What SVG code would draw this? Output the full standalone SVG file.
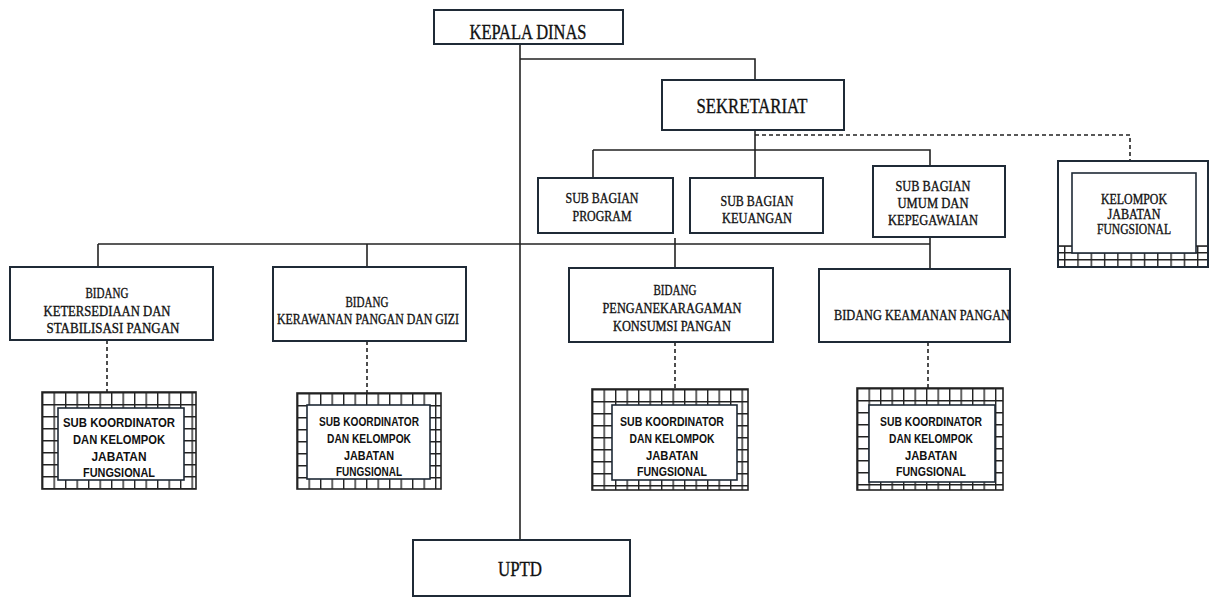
<svg xmlns="http://www.w3.org/2000/svg" width="1217" height="597" viewBox="0 0 1217 597">
<style>
.box{fill:#fff;stroke:#1f2a36;stroke-width:2}
.ln{fill:none;stroke:#222;stroke-width:1.6}
.dash{fill:none;stroke:#222;stroke-width:1.6;stroke-dasharray:4 3}
.s{font-family:"Liberation Serif","Times New Roman",serif;fill:#111;stroke:#111;stroke-width:0.35;text-anchor:middle}
.k{font-family:"Liberation Sans",Arial,sans-serif;fill:#111;text-anchor:middle;font-size:12.5px;font-weight:bold}
.inner{fill:#fff;stroke:#1f2a36;stroke-width:1.6}
</style>
<defs>
<pattern id="grid" width="11.5" height="12" patternUnits="userSpaceOnUse">
<rect width="11.5" height="12" fill="#fff"/>
<path d="M0 0.7H11.5M0.7 0V12" stroke="#222" stroke-width="1.4" fill="none"/>
</pattern>
<pattern id="grid2" width="13.3" height="7" patternUnits="userSpaceOnUse">
<rect width="13.3" height="7" fill="#fff"/>
<path d="M0 0.7H13.3M0.7 0V7" stroke="#222" stroke-width="1.4" fill="none"/>
</pattern>
</defs>

<g id="connectors">
<path class="ln" d="M520 44V540"/>
<path class="ln" d="M520 59H755V80"/>
<path class="ln" d="M755 130V178"/>
<path class="ln" d="M593 150H930V166"/>
<path class="ln" d="M593 150V178"/>
<path class="dash" d="M755 135H1130V161"/>
<path class="ln" d="M98 244H930"/>
<path class="ln" d="M98 244V267"/>
<path class="ln" d="M367 244V267"/>
<path class="ln" d="M675 238V268"/>
<path class="ln" d="M930 237V269"/>
<path class="dash" d="M107 340V392"/>
<path class="dash" d="M367 341V393"/>
<path class="dash" d="M675 342V389"/>
<path class="dash" d="M928 342V388"/>
</g>

<g id="kepala-dinas">
<rect class="box" x="434" y="10" width="189" height="34"/>
<text class="s" x="528" y="39" font-size="21" textLength="117" lengthAdjust="spacingAndGlyphs">KEPALA DINAS</text>
</g>

<g id="sekretariat">
<rect class="box" x="662" y="80" width="182" height="50"/>
<text class="s" x="752" y="113" font-size="22" textLength="111" lengthAdjust="spacingAndGlyphs">SEKRETARIAT</text>
</g>

<g id="sub-bagian-program">
<rect class="box" x="538" y="178" width="135" height="55"/>
<text class="s" x="602" y="203" font-size="15" textLength="73" lengthAdjust="spacingAndGlyphs">SUB BAGIAN</text>
<text class="s" x="602" y="221" font-size="15" textLength="59" lengthAdjust="spacingAndGlyphs">PROGRAM</text>
</g>

<g id="sub-bagian-keuangan">
<rect class="box" x="690" y="178" width="133" height="55"/>
<text class="s" x="757" y="206" font-size="15" textLength="73" lengthAdjust="spacingAndGlyphs">SUB BAGIAN</text>
<text class="s" x="757" y="223" font-size="15" textLength="70" lengthAdjust="spacingAndGlyphs">KEUANGAN</text>
</g>

<g id="sub-bagian-umum">
<rect class="box" x="873" y="166" width="132" height="71"/>
<text class="s" x="933" y="191" font-size="15" textLength="75" lengthAdjust="spacingAndGlyphs">SUB BAGIAN</text>
<text class="s" x="933" y="208" font-size="15" textLength="71" lengthAdjust="spacingAndGlyphs">UMUM DAN</text>
<text class="s" x="933" y="225" font-size="15" textLength="90" lengthAdjust="spacingAndGlyphs">KEPEGAWAIAN</text>
</g>

<g id="kelompok-jabatan-fungsional">
<rect class="box" x="1058" y="161" width="150" height="106"/>
<rect x="1059" y="246" width="148" height="20" fill="url(#grid2)"/>
<path class="ln" d="M1059 246H1207" stroke-width="1.2"/>
<rect x="1058" y="161" width="150" height="106" fill="none" stroke="#1f2a36" stroke-width="2"/>
<rect class="inner" x="1072" y="173" width="124" height="80"/>
<text class="s" x="1134" y="204" font-size="14" textLength="66" lengthAdjust="spacingAndGlyphs">KELOMPOK</text>
<text class="s" x="1134" y="219" font-size="14" textLength="53" lengthAdjust="spacingAndGlyphs">JABATAN</text>
<text class="s" x="1134" y="234" font-size="14" textLength="74" lengthAdjust="spacingAndGlyphs">FUNGSIONAL</text>
</g>

<g id="bidang-ketersediaan">
<rect class="box" x="10" y="267" width="203" height="73"/>
<text class="s" x="107" y="298" font-size="15" textLength="43" lengthAdjust="spacingAndGlyphs">BIDANG</text>
<text class="s" x="107" y="316" font-size="15" textLength="127" lengthAdjust="spacingAndGlyphs">KETERSEDIAAN DAN</text>
<text class="s" x="113" y="333" font-size="15" textLength="133" lengthAdjust="spacingAndGlyphs">STABILISASI  PANGAN</text>
</g>

<g id="bidang-kerawanan">
<rect class="box" x="273" y="267" width="193" height="74"/>
<text class="s" x="367" y="307" font-size="15" textLength="43" lengthAdjust="spacingAndGlyphs">BIDANG</text>
<text class="s" x="368" y="324" font-size="15" textLength="182" lengthAdjust="spacingAndGlyphs">KERAWANAN PANGAN DAN GIZI</text>
</g>

<g id="bidang-penganekaragaman">
<rect class="box" x="569" y="268" width="204" height="74"/>
<text class="s" x="675" y="295" font-size="15" textLength="43" lengthAdjust="spacingAndGlyphs">BIDANG</text>
<text class="s" x="672" y="313" font-size="15" textLength="139" lengthAdjust="spacingAndGlyphs">PENGANEKARAGAMAN</text>
<text class="s" x="672" y="331" font-size="15" textLength="118" lengthAdjust="spacingAndGlyphs">KONSUMSI PANGAN</text>
</g>

<g id="bidang-keamanan">
<rect class="box" x="819" y="269" width="191" height="73"/>
<text class="s" x="922" y="320" font-size="15" textLength="176" lengthAdjust="spacingAndGlyphs">BIDANG KEAMANAN PANGAN</text>
</g>

<g id="sub-koordinator-1" transform="translate(42 392)">
<rect width="154" height="97" fill="url(#grid)" stroke="#222" stroke-width="1.6"/>
<rect class="inner" x="16" y="16" width="126" height="72"/>
<text class="k" x="77" y="35" textLength="112" lengthAdjust="spacingAndGlyphs">SUB KOORDINATOR</text>
<text class="k" x="77" y="52" textLength="92" lengthAdjust="spacingAndGlyphs">DAN KELOMPOK</text>
<text class="k" x="77" y="69" textLength="55" lengthAdjust="spacingAndGlyphs">JABATAN</text>
<text class="k" x="77" y="85" textLength="72" lengthAdjust="spacingAndGlyphs">FUNGSIONAL</text>
</g>

<g id="sub-koordinator-2" transform="translate(297 393)">
<rect width="144" height="96" fill="url(#grid)" stroke="#222" stroke-width="1.6"/>
<rect class="inner" x="10" y="12" width="123" height="74"/>
<text class="k" x="72" y="33" textLength="100" lengthAdjust="spacingAndGlyphs">SUB KOORDINATOR</text>
<text class="k" x="72" y="50" textLength="84" lengthAdjust="spacingAndGlyphs">DAN KELOMPOK</text>
<text class="k" x="72" y="67" textLength="50" lengthAdjust="spacingAndGlyphs">JABATAN</text>
<text class="k" x="72" y="83" textLength="66" lengthAdjust="spacingAndGlyphs">FUNGSIONAL</text>
</g>

<g id="sub-koordinator-3" transform="translate(592 389)">
<rect width="156" height="101" fill="url(#grid)" stroke="#222" stroke-width="1.6"/>
<rect class="inner" x="20" y="16" width="125" height="75"/>
<text class="k" x="80" y="37" textLength="104" lengthAdjust="spacingAndGlyphs">SUB KOORDINATOR</text>
<text class="k" x="80" y="54" textLength="85" lengthAdjust="spacingAndGlyphs">DAN KELOMPOK</text>
<text class="k" x="80" y="71" textLength="52" lengthAdjust="spacingAndGlyphs">JABATAN</text>
<text class="k" x="80" y="87" textLength="70" lengthAdjust="spacingAndGlyphs">FUNGSIONAL</text>
</g>

<g id="sub-koordinator-4" transform="translate(857 388)">
<rect width="146" height="102" fill="url(#grid)" stroke="#222" stroke-width="1.6"/>
<rect class="inner" x="12" y="17" width="126" height="77"/>
<text class="k" x="74" y="38" textLength="102" lengthAdjust="spacingAndGlyphs">SUB KOORDINATOR</text>
<text class="k" x="74" y="55" textLength="84" lengthAdjust="spacingAndGlyphs">DAN KELOMPOK</text>
<text class="k" x="74" y="72" textLength="52" lengthAdjust="spacingAndGlyphs">JABATAN</text>
<text class="k" x="74" y="88" textLength="70" lengthAdjust="spacingAndGlyphs">FUNGSIONAL</text>
</g>

<g id="uptd">
<rect class="box" x="413" y="540" width="217" height="56"/>
<text class="s" x="520" y="576" font-size="20" textLength="44" lengthAdjust="spacingAndGlyphs">UPTD</text>
</g>
</svg>
